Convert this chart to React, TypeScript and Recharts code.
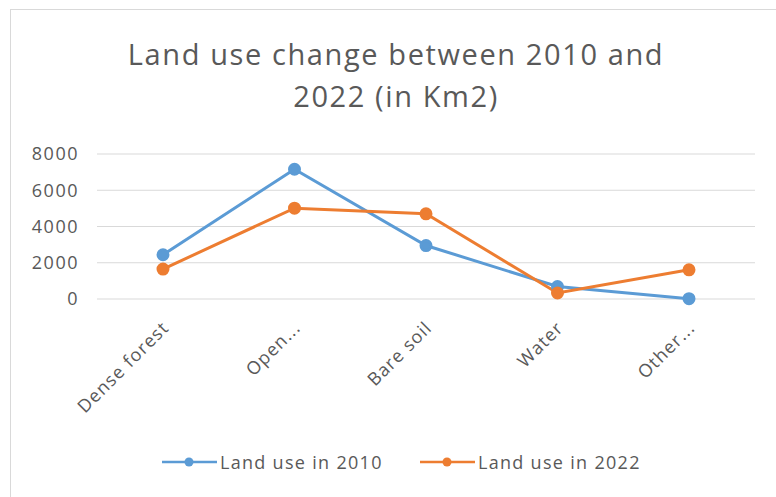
import { LineChart, Line, XAxis, YAxis, CartesianGrid } from "recharts";

const categories = ["Dense forest", "Open...", "Bare soil", "Water", "Other..."];
const use2010 = [2440, 7160, 2950, 690, 20];
const use2022 = [1650, 5010, 4700, 330, 1610];
const yTicks = [0, 2000, 4000, 6000, 8000];

const BLUE = "#5B9BD5";
const ORANGE = "#ED7D31";
const FONT = "'Open Sans', sans-serif";

const data = categories.map((name, i) => ({
  name,
  y2010: use2010[i],
  y2022: use2022[i],
}));

const seriesInfo = [
  { label: "Land use in 2010", color: BLUE, left: 162 },
  { label: "Land use in 2022", color: ORANGE, left: 420 },
];

function CategoryTick({ x, y, payload }: any) {
  return (
    <text
      x={0}
      y={0}
      transform={`translate(${x + 7},${y + 22}) rotate(-45)`}
      textAnchor="end"
      fill="#595959"
      fontSize={18}
      letterSpacing={1.1}
      fontFamily={FONT}
    >
      {payload.value}
    </text>
  );
}

export default function App() {
  return (
    <div style={{ position: "absolute", left: 0, top: 0, width: 776, height: 497, background: "#fff", overflow: "hidden" }}>
      <div style={{ position: "absolute", left: 10, top: 9, width: 780, height: 500, border: "1px solid #d9d9d9", boxSizing: "border-box" }} />
      <div
        style={{
          position: "absolute",
          left: 0,
          top: 33,
          width: 792,
          textAlign: "center",
          fontFamily: FONT,
          fontSize: 29,
          lineHeight: "42px",
          color: "#595959",
          letterSpacing: 1.6,
        }}
      >
        Land use change between 2010 and
        <br />
        2022 (in Km2)
      </div>
      <LineChart width={776} height={497} data={data} margin={{ top: 154, right: 21, left: 0, bottom: 0 }}>
        <CartesianGrid vertical={false} stroke="#d9d9d9" />
        <XAxis
          dataKey="name"
          axisLine={false}
          tickLine={false}
          interval={0}
          padding={{ left: 66, right: 66 }}
          height={198}
          tick={<CategoryTick />}
        />
        <YAxis
          width={97}
          domain={[0, 8000]}
          ticks={yTicks}
          axisLine={false}
          tickLine={false}
          tickMargin={12}
          tick={{ fill: "#595959", fontSize: 18, fontFamily: FONT, letterSpacing: 1.5 }}
        />
        <Line dataKey="y2010" stroke={BLUE} strokeWidth={3} dot={{ r: 5, fill: BLUE, stroke: BLUE }} isAnimationActive={false} />
        <Line dataKey="y2022" stroke={ORANGE} strokeWidth={3} dot={{ r: 5, fill: ORANGE, stroke: ORANGE }} isAnimationActive={false} />
      </LineChart>
      {seriesInfo.map((s) => (
        <div
          key={s.label}
          style={{
            position: "absolute",
            left: s.left,
            top: 449,
            height: 26,
            display: "flex",
            alignItems: "center",
            fontFamily: FONT,
            fontSize: 18,
            letterSpacing: 1.3,
            color: "#595959",
            whiteSpace: "nowrap",
          }}
        >
          <svg width={55} height={12} style={{ marginRight: 3 }}>
            <line x1={0} y1={6} x2={55} y2={6} stroke={s.color} strokeWidth={2.5} />
            <circle cx={27} cy={6} r={4.5} fill={s.color} />
          </svg>
          <span>{s.label}</span>
        </div>
      ))}
    </div>
  );
}
